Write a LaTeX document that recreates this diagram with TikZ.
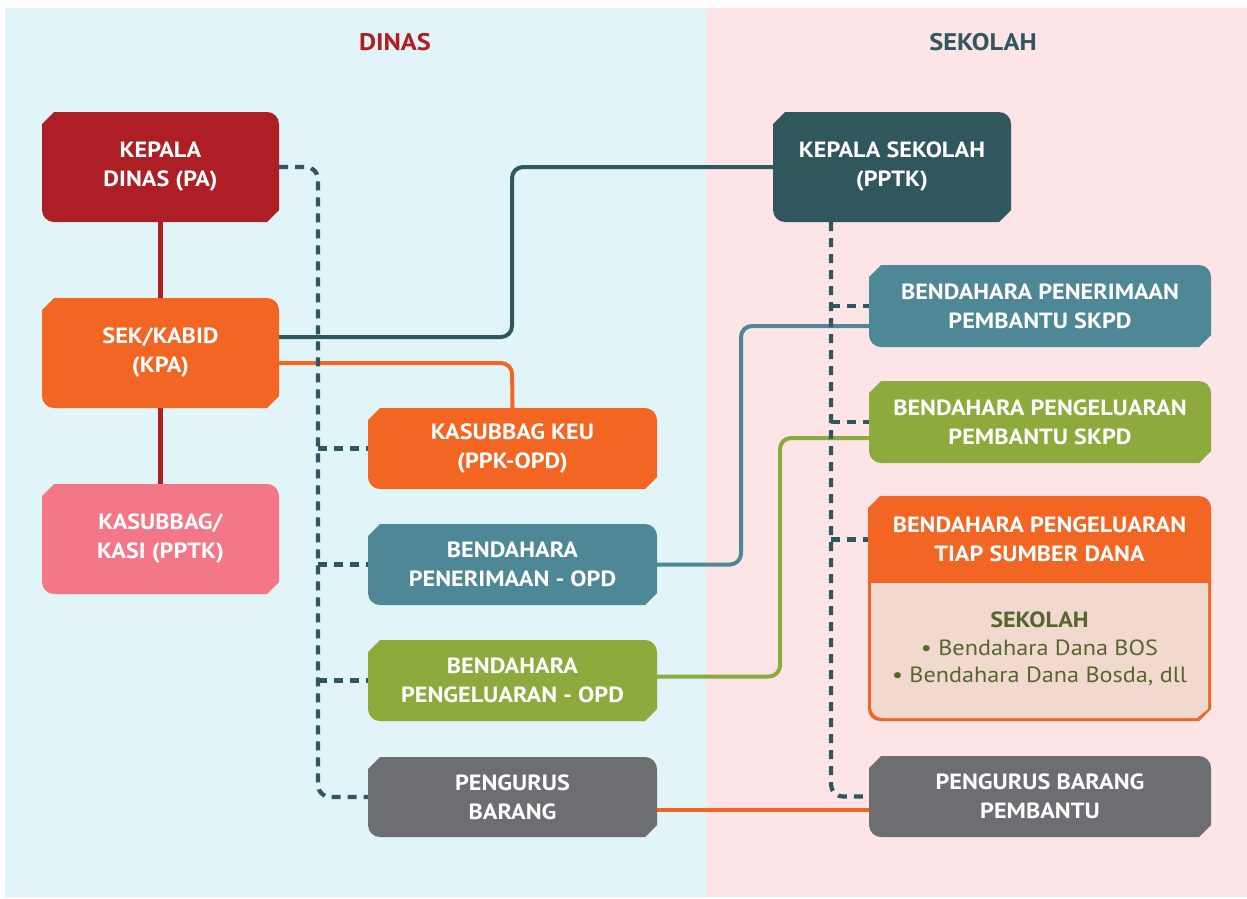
\documentclass[tikz,border=0pt]{standalone}
\usepackage{fontspec}
\setmainfont{PT Sans}[FakeStretch=1.1]
\usetikzlibrary{calc}

\definecolor{dinasred}{HTML}{AD1F24}
\definecolor{orgorange}{HTML}{F26522}
\definecolor{orgpink}{HTML}{F37787}
\definecolor{darkteal}{HTML}{30575E}
\definecolor{midteal}{HTML}{4E8796}
\definecolor{leafgreen}{HTML}{8DAA3C}
\definecolor{slategray}{HTML}{6D6E71}
\definecolor{bgblue}{HTML}{E1F4F8}
\definecolor{bgpink}{HTML}{FCE4E7}
\definecolor{paleorange}{HTML}{F2D9D0}
\definecolor{olivetext}{HTML}{56662C}

\pgfdeclarelayer{panels}
\pgfdeclarelayer{links}
\pgfsetlayers{panels,links,main}

% filled box: chamfered top-left / bottom-right, rounded top-right / bottom-left
% #1 fill, #2 left, #3 top, #4 right, #5 bottom, #6 corner size
\newcommand\chamferbox[6]{%
  \fill[#1] (#2,#3+#6) -- (#2+#6,#3) -- (#4-#6,#3)
    .. controls (#4-0.448*#6,#3) and (#4,#3+0.448*#6) .. (#4,#3+#6)
    -- (#4,#5-#6) -- (#4-#6,#5) -- (#2+#6,#5)
    .. controls (#2+0.448*#6,#5) and (#2,#5-0.448*#6) .. (#2,#5-#6) -- cycle;}

% named box with its label: #1 name, #2 fill, #3 left, #4 top, #5 right, #6 bottom, #7 text
\newcommand\orgnode[7]{%
  \chamferbox{#2}{#3}{#4}{#5}{#6}{12}
  \node[boxlabel, minimum width={(#5-#3)*1pt}, minimum height={(#6-#4)*1pt}]
    (#1) at ({(#3+#5)/2},{(#4+#6)/2}) {#7};}

\begin{document}
\begin{tikzpicture}[x=1pt, y=-1pt,
  boxlabel/.style={rectangle, inner sep=0pt, align=center, text=white,
    font=\bfseries\fontsize{22}{29}\selectfont},
  headlabel/.style={inner sep=0pt, font=\bfseries\fontsize{24}{28}\selectfont},
  solidlink/.style={line width=4pt, rounded corners=11pt},
  dashlink/.style={line width=4.2pt, color=darkteal, dash pattern=on 9pt off 7pt,
    rounded corners=12pt}]

\useasboundingbox (0,0) rectangle (1247,898);

\begin{pgfonlayer}{panels}
  \fill[white] (0,0) rectangle (1247,898);
  \fill[bgblue] (5,8) rectangle (706,897);
  \fill[bgpink] (706,8) rectangle (1247,897);
\end{pgfonlayer}

% column headings
\node[headlabel, text=dinasred] (hdinas) at (395,42) {DINAS};
\node[headlabel, text=darkteal] (hsekolah) at (983,42) {SEKOLAH};

% DINAS column
\orgnode{kd}{dinasred}{42}{112}{279}{222}{KEPALA\\DINAS (PA)}
\orgnode{sk}{orgorange}{42}{298}{279}{408}{SEK/KABID\\(KPA)}
\orgnode{kk}{orgpink}{42}{484}{279}{594}{KASUBBAG/\\KASI (PPTK)}
\orgnode{keu}{orgorange}{368}{408}{657}{489}{KASUBBAG KEU\\(PPK-OPD)}
\orgnode{bpo}{midteal}{368}{524}{657}{605}{BENDAHARA\\PENERIMAAN - OPD}
\orgnode{bgo}{leafgreen}{368}{640}{657}{721}{BENDAHARA\\PENGELUARAN - OPD}
\orgnode{pb}{slategray}{368}{757}{657}{837}{PENGURUS\\BARANG}

% SEKOLAH column
\orgnode{ks}{darkteal}{773}{112}{1011}{222}{KEPALA SEKOLAH\\(PPTK)}
\orgnode{bpp}{midteal}{869}{265}{1211}{347}{BENDAHARA PENERIMAAN\\PEMBANTU SKPD}
\orgnode{bgp}{leafgreen}{869}{381}{1211}{463}{BENDAHARA PENGELUARAN\\PEMBANTU SKPD}
\orgnode{pbp}{slategray}{869}{756}{1211}{837}{PENGURUS BARANG\\PEMBANTU}

% box with heading and list of school treasurers
\chamferbox{orgorange}{868}{496}{1211}{721}{12}
\fill[paleorange] (871,583) -- (1208,583) -- (1208,709) -- (1197,718) -- (882,718)
  .. controls (876,718) and (871,713) .. (871,707) -- cycle;
\node[boxlabel, minimum width=343pt, minimum height=87pt] (bts) at (1039.5,539.5)
  {BENDAHARA PENGELUARAN\\TIAP SUMBER DANA};
\node[inner sep=0pt, align=center, text=olivetext,
  font=\fontsize{22}{29}\selectfont] (btsbody) at (1039.5,649)
  {\textbf{SEKOLAH}\\[-1pt] • Bendahara Dana BOS\\[-2pt] • Bendahara Dana Bosda, dll};

\begin{pgfonlayer}{links}
  % solid links
  \draw[line width=5pt, dinasred] (kd.south) -- (sk.north);
  \draw[line width=5pt, dinasred] (sk.south) -- (kk.north);
  \draw[solidlink, darkteal] ([yshift=16pt]sk.east) -- (512,337) -- (512,167) -- (ks.west);
  \draw[solidlink, orgorange] ([yshift=-10pt]sk.east) -- (512,363) -- (keu.north);
  \draw[solidlink, midteal] (bpo.east) -- (741,564.5) -- (741,326) -- ([yshift=-20pt]bpp.west);
  \draw[solidlink, leafgreen] ([yshift=4pt]bgo.east) -- (780,676.5) -- (780,438) -- ([yshift=-16pt]bgp.west);
  \draw[line width=4pt, orgorange] ([yshift=-13pt]pb.east) -- ([yshift=-13pt]pb.east -| pbp.west);
  % dashed links, DINAS side
  \draw[dashlink] (kd.east) -- (318,167) -- (318,797) -- (pb.west);
  \draw[dashlink] (318,448.5) -- (keu.west);
  \draw[dashlink] (318,564.5) -- (bpo.west);
  \draw[dashlink] (318,680.5) -- (bgo.west);
  % dashed links, SEKOLAH side
  \draw[dashlink] ([xshift=-61pt]ks.south) -- (831,796.5) -- (pbp.west);
  \draw[dashlink] (831,306) -- (bpp.west);
  \draw[dashlink] (831,422) -- (bgp.west);
  \draw[dashlink] (831,539.5) -- (bts.west);
\end{pgfonlayer}
\end{tikzpicture}
\end{document}
